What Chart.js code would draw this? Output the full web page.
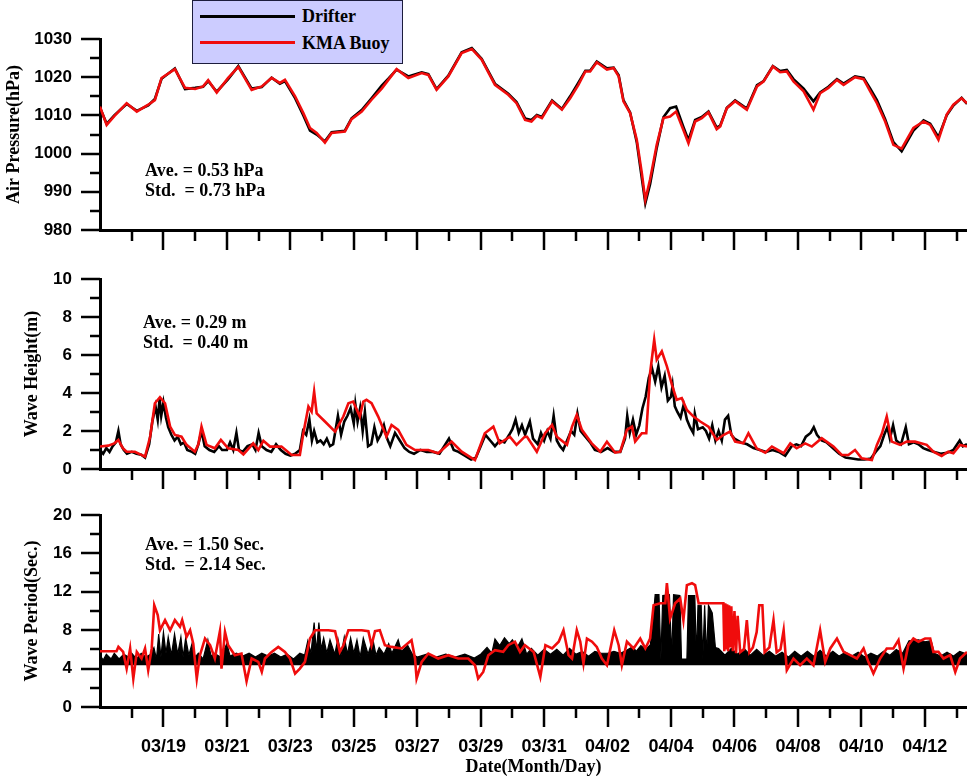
<!DOCTYPE html>
<html>
<head>
<meta charset="utf-8">
<title>Drifter vs KMA Buoy</title>
<script src="https://cdn.jsdelivr.net/npm/chart.js@4.4.1/dist/chart.umd.min.js"></script>
<style>
  html, body { margin: 0; padding: 0; background: #fff; }
  #wrap { position: relative; width: 967px; height: 778px; overflow: hidden; }
  #wrap canvas { position: absolute; left: 0; }
  .stats { position: absolute; font: bold 18px "Liberation Serif", "Times New Roman", serif; line-height: 20px; white-space: pre; color: #000; }
  #legend { position: absolute; left: 192px; top: 0; width: 209px; height: 62px; background: #ccccff; border: 1px solid #1c1c3c; z-index: 5; }
  #legend .line { position: absolute; left: 7px; width: 95px; height: 3px; }
  #legend .name { position: absolute; left: 109px; font: bold 18px "Liberation Serif", "Times New Roman", serif; line-height: 20px; color: #000; }
</style>
</head>
<body>
<div id="wrap">
  <canvas id="pressureChart" width="967" height="256" style="top:0"></canvas>
  <canvas id="heightChart" width="967" height="236" style="top:256px"></canvas>
  <canvas id="periodChart" width="967" height="286" style="top:492px"></canvas>
  <div id="legend"></div>
  <div class="stats" id="pressureStats" style="left:145px; top:160px"></div>
  <div class="stats" id="heightStats" style="left:143px; top:312px"></div>
  <div class="stats" id="periodStats" style="left:145px; top:534px"></div>
</div>
<script>
// days since 03/17 00:00
const dateLabels = ['03/17','03/18','03/19','03/20','03/21','03/22','03/23','03/24','03/25','03/26',
  '03/27','03/28','03/29','03/30','03/31','04/01','04/02','04/03','04/04','04/05',
  '04/06','04/07','04/08','04/09','04/10','04/11','04/12','04/13'];
const seriesNames = ['Drifter', 'KMA Buoy'];
const seriesColors = ['#000000', 'rgb(240,12,12)'];

const pressureStats = ['Ave. = 0.53 hPa', 'Std.  = 0.73 hPa'];
const heightStats = ['Ave. = 0.29 m', 'Std.  = 0.40 m'];
const periodStats = ['Ave. = 1.50 Sec.', 'Std.  = 2.14 Sec.'];

// air pressure (hPa)
const pressureDays = [0, 0.21, 0.45, 0.84, 1.16, 1.52, 1.73, 1.94, 2.36, 2.68,
  3, 3.25, 3.41, 3.68, 4.04, 4.36, 4.78, 5.1, 5.41, 5.67,
  5.83, 6.15, 6.41, 6.62, 6.83, 7.09, 7.3, 7.72, 7.93, 8.25,
  8.56, 8.88, 9.09, 9.35, 9.72, 10.14, 10.35, 10.61, 10.98, 11.4,
  11.72, 12.03, 12.45, 12.87, 13.13, 13.4, 13.6, 13.77, 13.93, 14.25,
  14.56, 14.82, 15.08, 15.3, 15.45, 15.66, 15.98, 16.19, 16.35, 16.5,
  16.71, 16.92, 17.08, 17.19, 17.34, 17.55, 17.76, 17.97, 18.16, 18.39,
  18.55, 18.76, 18.97, 19.18, 19.44, 19.55, 19.76, 20.02, 20.39, 20.71,
  20.92, 21.21, 21.44, 21.65, 21.86, 22.18, 22.49, 22.7, 22.96, 23.23,
  23.44, 23.8, 24.07, 24.28, 24.49, 24.75, 25.01, 25.27, 25.64, 25.96,
  26.17, 26.43, 26.69, 26.9, 27.16, 27.33];
const pressureDrifter = [1012.0, 1007.8, 1010.0, 1013.0, 1011.2, 1012.6, 1014.3, 1019.6, 1022.3, 1016.9,
  1017.2, 1017.5, 1019.0, 1016.2, 1019.5, 1022.9, 1017.0, 1017.4, 1019.9, 1018.3,
  1019.0, 1014.5, 1010.0, 1006.0, 1005.0, 1003.2, 1005.6, 1006.0, 1009.2, 1011.4,
  1014.5, 1017.8, 1019.6, 1022.0, 1020.2, 1021.3, 1020.8, 1016.9, 1020.4, 1026.5,
  1027.6, 1024.8, 1018.3, 1015.7, 1013.5, 1009.2, 1008.8, 1010.1, 1009.6, 1013.9,
  1011.7, 1015.0, 1018.6, 1021.7, 1021.7, 1024.1, 1022.3, 1022.5, 1020.5, 1014.0,
  1010.8, 1003.0, 993.5, 987.0, 992.0, 1001.5, 1009.5, 1011.9, 1012.3, 1007.0,
  1003.5, 1008.8, 1009.6, 1011.0, 1006.8, 1007.3, 1012.0, 1013.9, 1011.8, 1017.9,
  1019.0, 1022.9, 1021.6, 1021.9, 1019.5, 1017.0, 1013.7, 1016.0, 1017.5, 1019.5,
  1018.3, 1020.2, 1019.8, 1017.0, 1014.0, 1009.0, 1003.0, 1000.6, 1006.0, 1008.7,
  1007.8, 1004.3, 1010.0, 1012.6, 1014.6, 1013.0];
const pressureBuoy = [1012.3, 1007.5, 1009.8, 1013.2, 1011.0, 1012.8, 1014.0, 1019.8, 1022.1, 1017.2,
  1016.9, 1017.6, 1019.2, 1016.0, 1019.8, 1022.7, 1016.7, 1017.6, 1019.8, 1018.5,
  1019.3, 1015.0, 1010.6, 1006.7, 1005.4, 1002.9, 1005.4, 1005.8, 1009.0, 1011.0,
  1014.1, 1017.0, 1019.3, 1022.1, 1019.8, 1021.1, 1020.6, 1016.7, 1020.2, 1026.3,
  1027.4, 1024.6, 1018.0, 1015.4, 1013.2, 1008.8, 1008.4, 1009.9, 1009.3, 1013.7,
  1011.5, 1014.5, 1018.0, 1021.5, 1021.5, 1023.9, 1022.0, 1022.4, 1020.2, 1013.7,
  1010.6, 1003.6, 994.9, 987.9, 993.2, 1002.3, 1009.3, 1009.7, 1011.0, 1006.2,
  1002.7, 1008.4, 1009.3, 1010.8, 1006.4, 1007.1, 1011.9, 1013.7, 1011.5, 1017.6,
  1018.9, 1022.8, 1021.3, 1021.5, 1018.9, 1016.3, 1011.5, 1015.8, 1017.2, 1019.3,
  1018.0, 1020.0, 1019.5, 1016.3, 1013.2, 1008.4, 1002.3, 1001.3, 1006.7, 1008.4,
  1007.5, 1003.6, 1010.2, 1012.8, 1014.5, 1013.2];

// wave height (m)
const heightDaysDrifter = [0, 0.1, 0.2, 0.3, 0.4, 0.5, 0.58, 0.65, 0.75, 0.85,
  1, 1.15, 1.3, 1.42, 1.55, 1.65, 1.75, 1.82, 1.88, 1.93,
  2, 2.08, 2.15, 2.25, 2.35, 2.45, 2.55, 2.65, 2.75, 2.9,
  3, 3.1, 3.2, 3.3, 3.45, 3.6, 3.75, 3.85, 4, 4.1,
  4.2, 4.3, 4.38, 4.5, 4.65, 4.8, 4.9, 5, 5.1, 5.25,
  5.4, 5.55, 5.7, 5.85, 6, 6.15, 6.3, 6.4, 6.5, 6.6,
  6.68, 6.75, 6.85, 6.95, 7.05, 7.15, 7.25, 7.35, 7.5, 7.6,
  7.7, 7.8, 7.9, 8, 8.05, 8.12, 8.2, 8.28, 8.35, 8.45,
  8.55, 8.65, 8.75, 8.85, 8.95, 9.05, 9.15, 9.3, 9.45, 9.6,
  9.75, 9.9, 10.1, 10.3, 10.5, 10.7, 10.85, 11, 11.15, 11.3,
  11.5, 11.7, 11.85, 12, 12.15, 12.3, 12.45, 12.6, 12.75, 12.9,
  13, 13.1, 13.2, 13.3, 13.4, 13.55, 13.65, 13.8, 13.9, 14,
  14.1, 14.2, 14.3, 14.4, 14.5, 14.6, 14.75, 14.85, 14.95, 15.05,
  15.15, 15.3, 15.45, 15.6, 15.8, 16, 16.2, 16.4, 16.55, 16.62,
  16.7, 16.8, 16.9, 17, 17.1, 17.2, 17.3, 17.4, 17.5, 17.6,
  17.7, 17.8, 17.9, 18, 18.05, 18.12, 18.2, 18.3, 18.4, 18.5,
  18.6, 18.7, 18.75, 18.85, 19, 19.1, 19.2, 19.3, 19.4, 19.5,
  19.6, 19.7, 19.8, 19.9, 20, 20.2, 20.4, 20.6, 20.8, 21,
  21.2, 21.4, 21.6, 21.8, 21.95, 22.1, 22.25, 22.4, 22.5, 22.6,
  22.75, 22.9, 23.1, 23.3, 23.5, 23.7, 23.9, 24.1, 24.3, 24.45,
  24.6, 24.72, 24.82, 24.9, 25, 25.1, 25.25, 25.4, 25.5, 25.65,
  25.8, 25.95, 26.1, 26.3, 26.5, 26.7, 26.9, 27.1, 27.2, 27.33];
const heightDrifter = [1.0, 0.8, 1.1, 0.9, 1.2, 1.4, 2.0, 1.3, 1.0, 0.8,
  0.9, 0.8, 0.75, 0.6, 1.3, 2.5, 3.3, 2.6, 3.7, 2.8,
  3.5, 2.7, 2.2, 1.8, 1.5, 1.7, 1.3, 1.4, 1.0, 0.9,
  0.8, 1.3, 2.0, 1.2, 1.0, 0.9, 1.2, 1.0, 1.0, 1.4,
  1.0, 1.9, 1.0, 0.9, 1.2, 1.3, 1.0, 1.9, 1.2, 1.0,
  0.9, 1.3, 1.0, 0.8, 0.7, 0.8, 1.0, 2.0, 1.8, 2.6,
  1.5, 2.0, 1.4, 1.5, 1.3, 1.6, 1.2, 1.3, 2.8, 1.8,
  2.5, 2.8, 3.2, 2.4, 3.4, 2.5, 3.2, 2.0, 3.0, 1.2,
  1.3, 2.2, 1.5, 1.8, 2.3, 1.6, 1.2, 1.9, 1.5, 1.1,
  0.9, 0.8, 1.0, 0.9, 0.9, 0.8, 1.2, 1.6, 1.0, 0.9,
  0.7, 0.5, 0.6, 1.2, 1.8, 1.5, 1.2, 1.5, 1.4, 1.8,
  2.1, 2.6, 1.9, 2.3, 1.8, 2.5, 1.6, 1.3, 1.9, 1.5,
  2.0, 1.6, 2.8, 1.5, 1.2, 1.0, 1.6, 2.0, 1.8, 2.9,
  2.0, 1.7, 1.4, 1.0, 0.9, 1.1, 0.9, 0.9, 1.6, 2.8,
  1.9, 2.6, 1.8, 2.3, 3.2, 3.8, 4.8, 5.3, 4.6, 5.4,
  4.3, 4.9, 3.6, 3.8, 4.4, 3.3, 3.0, 2.7, 3.4, 2.6,
  2.2, 1.9, 2.9, 2.1, 2.2, 2.0, 1.6, 2.3, 1.5, 2.0,
  1.5, 2.6, 2.8, 1.8, 1.6, 1.4, 1.3, 1.1, 1.0, 0.9,
  1.0, 0.9, 0.7, 1.2, 1.3, 1.2, 1.7, 1.9, 2.2, 1.8,
  1.5, 1.4, 1.1, 0.8, 0.6, 0.55, 0.5, 0.5, 0.55, 0.9,
  1.2, 1.8, 2.2, 1.6, 2.3, 1.5, 1.3, 2.2, 1.3, 1.4,
  1.3, 1.1, 1.0, 0.9, 0.8, 0.85, 1.0, 1.5, 1.2, 1.3];
const heightDaysBuoy = [0, 0.26, 0.45, 0.58, 0.72, 0.84, 1.1, 1.42, 1.58, 1.73,
  1.89, 2.05, 2.21, 2.36, 2.57, 2.73, 2.99, 3.1, 3.2, 3.36,
  3.62, 3.81, 4.04, 4.36, 4.52, 4.83, 4.99, 5.15, 5.36, 5.72,
  6.04, 6.3, 6.41, 6.57, 6.67, 6.75, 6.83, 7.09, 7.41, 7.67,
  7.83, 7.98, 8.1, 8.19, 8.3, 8.4, 8.56, 8.77, 9.03, 9.19,
  9.4, 9.66, 9.93, 10.35, 10.66, 11.08, 11.4, 11.82, 12.13, 12.4,
  12.6, 12.92, 13.13, 13.39, 13.46, 13.77, 14.03, 14.25, 14.4, 14.72,
  14.88, 15.03, 15.19, 15.5, 15.77, 15.98, 16.24, 16.4, 16.61, 16.77,
  16.87, 17.08, 17.22, 17.34, 17.47, 17.55, 17.71, 17.87, 18.03, 18.18,
  18.34, 18.5, 18.71, 18.92, 19.18, 19.44, 19.65, 19.86, 20.02, 20.28,
  20.44, 20.7, 20.97, 21.18, 21.55, 21.76, 21.96, 22.23, 22.44, 22.75,
  23.12, 23.38, 23.59, 23.8, 24.01, 24.33, 24.49, 24.65, 24.8, 24.96,
  25.22, 25.43, 25.69, 26.06, 26.27, 26.53, 26.74, 26.9, 27.11, 27.33];
const heightBuoy = [1.18, 1.23, 1.35, 1.53, 1.1, 0.91, 0.91, 0.65, 1.7, 3.46,
  3.78, 3.46, 2.23, 1.79, 1.7, 1.27, 0.91, 1.3, 2.23, 1.27,
  1.09, 1.53, 1.09, 1.0, 0.77, 1.35, 1.0, 1.49, 1.18, 1.18,
  0.74, 0.74, 1.88, 3.29, 3.02, 4.08, 2.93, 2.5, 1.97, 2.76,
  3.46, 3.55, 3.1, 2.76, 3.55, 3.64, 3.46, 2.76, 1.7, 2.32,
  2.06, 1.27, 1.0, 1.0, 0.83, 1.44, 0.91, 0.47, 1.88, 2.23,
  1.35, 1.7, 1.27, 1.7, 1.7, 0.91, 1.88, 2.32, 1.7, 1.27,
  2.23, 2.85, 2.06, 1.35, 0.91, 1.44, 0.86, 0.91, 2.06, 2.23,
  1.44, 1.88, 1.88, 5.04, 6.8, 5.75, 6.19, 5.4, 4.43, 3.64,
  3.73, 3.11, 2.76, 2.5, 2.23, 1.53, 1.79, 1.97, 1.44, 1.35,
  1.88, 1.09, 0.86, 1.18, 0.83, 1.35, 1.09, 1.35, 1.18, 1.62,
  1.18, 0.74, 0.74, 1.0, 0.56, 0.47, 1.27, 1.88, 2.76, 1.44,
  1.27, 1.44, 1.44, 1.27, 0.91, 0.69, 0.91, 0.83, 1.27, 1.18];

// wave period (sec); drifter trace is a dense band sitting on its lowest bin
const periodFloor = 4.35;
const periodDaysDrifter = [0, 0.1, 0.2, 0.35, 0.45, 0.6, 0.75, 0.9, 1, 1.15,
  1.3, 1.45, 1.6, 1.7, 1.78, 1.85, 1.92, 2, 2.08, 2.15,
  2.25, 2.35, 2.45, 2.55, 2.62, 2.7, 2.8, 2.9, 3, 3.1,
  3.25, 3.4, 3.5, 3.6, 3.8, 4, 4.1, 4.3, 4.5, 4.7,
  4.9, 5.1, 5.3, 5.5, 5.7, 5.9, 6.1, 6.3, 6.45, 6.55,
  6.65, 6.75, 6.82, 6.9, 6.97, 7.05, 7.15, 7.25, 7.4, 7.5,
  7.6, 7.7, 7.8, 7.9, 8, 8.1, 8.2, 8.3, 8.45, 8.6,
  8.7, 8.8, 8.95, 9.1, 9.2, 9.4, 9.5, 9.7, 9.85, 10,
  10.3, 10.6, 10.9, 11.2, 11.5, 11.8, 12, 12.2, 12.35, 12.45,
  12.6, 12.75, 12.9, 13, 13.15, 13.3, 13.45, 13.6, 13.8, 14,
  14.2, 14.4, 14.6, 14.8, 15, 15.2, 15.4, 15.6, 15.8, 16,
  16.2, 16.4, 16.6, 16.8, 16.9, 17.05, 17.2, 17.35, 17.42, 17.5,
  17.62, 17.68, 17.74, 17.95, 18.02, 18.08, 18.28, 18.33, 18.5, 18.55,
  18.75, 18.8, 18.85, 18.95, 19, 19.06, 19.12, 19.18, 19.3, 19.4,
  19.5, 19.7, 19.9, 20.1, 20.3, 20.5, 20.7, 20.9, 21.1, 21.3,
  21.5, 21.7, 21.9, 22.1, 22.3, 22.5, 22.7, 22.9, 23.1, 23.3,
  23.5, 23.7, 23.9, 24.1, 24.3, 24.5, 24.7, 24.9, 25.1, 25.3,
  25.5, 25.8, 26, 26.2, 26.3, 26.5, 26.7, 26.9, 27.1, 27.33];
const periodDrifter = [5.4, 4.9, 5.5, 5.0, 5.6, 5.0, 5.5, 5.2, 5.6, 5.0,
  5.6, 5.2, 5.5, 6.2, 5.0, 7.6, 5.2, 7.8, 5.6, 7.3,
  5.4, 7.6, 5.5, 7.3, 5.2, 7.2, 5.4, 6.6, 5.2, 5.6,
  5.0, 7.0, 5.3, 5.6, 5.2, 6.6, 5.3, 5.6, 5.3, 5.6,
  5.2, 5.6, 5.3, 5.6, 5.2, 5.5, 5.0, 5.6, 5.4, 6.9,
  5.6, 8.8, 5.8, 8.8, 6.0, 7.2, 5.6, 7.0, 5.5, 7.1,
  5.4, 7.3, 5.5, 7.2, 5.6, 7.0, 5.2, 7.2, 5.5, 7.1,
  5.4, 6.2, 5.5, 6.6, 5.6, 7.0, 5.8, 6.4, 5.5, 5.2,
  5.5, 5.2, 5.5, 5.2, 5.5, 5.1, 5.5, 6.2, 5.6, 7.1,
  6.4, 7.2, 6.6, 7.0, 6.2, 7.1, 5.5, 6.1, 5.4, 6.0,
  5.5, 6.0, 5.4, 6.1, 5.5, 5.8, 5.3, 5.8, 5.6, 5.6,
  5.8, 5.6, 5.9, 6.3, 5.8, 6.4, 6.0, 6.5, 8.6, 11.7,
  11.7, 5.0, 11.6, 11.7, 5.2, 11.7, 11.6, 5.0, 5.0, 11.6,
  11.6, 5.2, 10.6, 10.6, 5.0, 10.6, 5.2, 10.6, 9.8, 6.2,
  6.1, 5.4, 6.1, 5.5, 6.1, 5.4, 6.0, 5.4, 5.8, 5.3,
  5.7, 5.2, 5.8, 5.3, 5.8, 5.3, 5.9, 5.3, 5.8, 5.3,
  5.7, 5.3, 5.7, 5.2, 5.6, 5.3, 5.8, 5.4, 6.0, 5.6,
  6.9, 7.0, 6.8, 6.9, 5.6, 5.3, 5.7, 5.3, 5.8, 5.5];
const periodDaysBuoy = [0, 0.52, 0.58, 0.73, 0.84, 0.95, 1.05, 1.16, 1.31, 1.42,
  1.52, 1.63, 1.71, 1.82, 1.89, 2.05, 2.21, 2.36, 2.52, 2.59,
  2.73, 2.84, 2.94, 3.05, 3.15, 3.31, 3.47, 3.62, 3.78, 3.83,
  3.94, 4.04, 4.25, 4.46, 4.62, 4.78, 4.99, 5.1, 5.2, 5.41,
  5.62, 5.83, 5.99, 6.15, 6.3, 6.46, 6.62, 6.78, 7.2, 7.41,
  7.56, 7.67, 7.83, 8.25, 8.46, 8.56, 8.67, 8.82, 8.98, 9.19,
  9.51, 9.82, 9.93, 9.98, 10.14, 10.35, 10.66, 10.98, 11.29, 11.61,
  11.82, 11.92, 12.08, 12.24, 12.45, 12.71, 12.87, 13.08, 13.24, 13.39,
  13.6, 13.67, 13.88, 14.04, 14.25, 14.46, 14.61, 14.77, 14.88, 15.03,
  15.14, 15.24, 15.35, 15.51, 15.66, 15.82, 15.98, 16.21, 16.35, 16.45,
  16.61, 16.82, 17.03, 17.19, 17.34, 17.45, 17.66, 17.82, 17.87, 17.97,
  18.13, 18.29, 18.39, 18.5, 18.66, 18.76, 18.87, 19.65, 19.68, 19.71,
  19.74, 19.77, 19.8, 19.83, 19.87, 19.9, 19.95, 20, 20.05, 20.1,
  20.18, 20.3, 20.39, 20.47, 20.58, 20.7, 20.78, 20.88, 20.95, 21.1,
  21.23, 21.33, 21.45, 21.55, 21.65, 21.86, 22.07, 22.28, 22.49, 22.7,
  22.86, 23.02, 23.23, 23.44, 23.65, 23.86, 24.07, 24.22, 24.38, 24.59,
  24.8, 25.01, 25.17, 25.33, 25.48, 25.64, 25.8, 26.01, 26.17, 26.27,
  26.43, 26.59, 26.8, 26.96, 27.11, 27.33];
const periodBuoy = [5.81, 5.81, 6.26, 5.74, 4.0, 6.1, 2.96, 5.74, 5.05, 6.1,
  3.83, 6.1, 10.6, 9.57, 8.0, 9.05, 8.0, 9.05, 8.35, 9.05,
  7.3, 8.0, 6.6, 2.96, 5.4, 7.13, 6.44, 5.05, 7.9, 4.0,
  7.83, 6.44, 5.4, 5.57, 2.68, 5.05, 4.7, 3.65, 5.05, 5.74,
  6.26, 5.74, 5.05, 3.48, 4.0, 4.7, 7.13, 8.0, 8.0, 7.9,
  5.74, 6.4, 8.0, 8.0, 7.9, 6.44, 7.9, 8.0, 6.44, 6.26,
  6.1, 6.96, 5.05, 2.96, 4.7, 5.57, 5.05, 5.4, 5.05, 5.05,
  4.35, 2.96, 3.65, 5.4, 5.92, 5.74, 6.44, 6.8, 5.74, 6.44,
  5.92, 5.74, 3.13, 6.44, 6.1, 6.8, 8.0, 5.4, 5.05, 8.0,
  6.8, 4.52, 7.13, 6.8, 6.26, 5.05, 4.35, 8.0, 6.44, 4.35,
  6.8, 6.1, 7.13, 6.1, 7.13, 10.6, 10.8, 10.8, 12.9, 9.2,
  10.8, 11.3, 9.05, 12.7, 12.9, 12.7, 10.8, 10.8, 5.8, 10.8,
  6.0, 10.7, 5.8, 10.6, 6.2, 10.5, 5.8, 10.0, 5.6, 9.5,
  5.7, 6.0, 9.05, 5.7, 6.2, 7.8, 10.6, 10.6, 5.7, 6.2,
  9.05, 5.7, 6.0, 8.0, 3.83, 5.05, 4.35, 5.05, 4.35, 8.0,
  4.7, 6.1, 7.13, 5.74, 5.4, 5.05, 6.1, 4.7, 3.48, 5.05,
  6.1, 6.1, 6.96, 4.0, 6.44, 7.13, 6.8, 7.13, 7.13, 5.74,
  5.74, 5.05, 5.4, 3.65, 5.05, 5.74];

const xMax = 27.33;
const sansFont = "'Liberation Sans', Arial, sans-serif";
const serifFont = "'Liberation Serif', 'Times New Roman', serif";
const clear = 'rgba(0,0,0,0)';

function toPoints(xs, ys) {
  return xs.map((d, i) => ({ x: d, y: ys[i] }));
}

// tick marks: long on labelled values, short in between
const tickMarks = {
  id: 'tickMarks',
  afterDraw(chart, args, opts) {
    const { ctx, chartArea } = chart;
    const x = chart.scales.x;
    const y = chart.scales.y;
    ctx.save();
    ctx.strokeStyle = '#000';
    ctx.lineWidth = 2.5;
    ctx.beginPath();
    for (let d = 1; d <= Math.floor(x.max); d++) {
      const px = Math.round(x.getPixelForValue(d));
      ctx.moveTo(px, chartArea.bottom);
      ctx.lineTo(px, chartArea.bottom + (d % 2 === 0 ? 20 : 11));
    }
    for (let v = opts.min; v <= opts.max; v += opts.minor) {
      const py = Math.round(y.getPixelForValue(v));
      const len = (v - opts.min) % opts.major === 0 ? 19 : 10;
      ctx.moveTo(chartArea.left, py);
      ctx.lineTo(chartArea.left - len, py);
    }
    ctx.stroke();
    ctx.restore();
  }
};

function makePanel(id, cfg) {
  return new Chart(document.getElementById(id), {
    type: 'line',
    data: {
      datasets: [
        {
          label: seriesNames[1],
          data: toPoints(cfg.buoyDays, cfg.buoy),
          borderColor: seriesColors[1],
          borderWidth: 2.6,
          order: 0
        },
        {
          label: seriesNames[0],
          data: toPoints(cfg.drifterDays, cfg.drifter),
          borderColor: seriesColors[0],
          backgroundColor: seriesColors[0],
          borderWidth: cfg.drifterFill ? 1.2 : 2.6,
          fill: cfg.drifterFill ? { value: periodFloor } : false,
          order: 1
        }
      ]
    },
    options: {
      responsive: false,
      animation: false,
      events: [],
      layout: { padding: { top: cfg.padTop, left: 0, right: 0, bottom: 0 } },
      elements: { point: { radius: 0 }, line: { tension: 0 } },
      plugins: {
        legend: { display: false },
        tooltip: { enabled: false },
        tickMarks: { min: cfg.min, max: cfg.max, minor: cfg.minor, major: cfg.major }
      },
      scales: {
        x: {
          type: 'linear',
          min: 0,
          max: xMax,
          ticks: {
            display: !!cfg.showDates,
            stepSize: 1,
            autoSkip: false,
            maxRotation: 0,
            padding: 0,
            color: '#000',
            font: { family: sansFont, size: 18, weight: 'bold' },
            callback: (v) => (Number.isInteger(v) && v > 0 && v % 2 === 0) ? dateLabels[v] : ''
          },
          // invisible tick lines only push the labels down
          grid: { drawOnChartArea: false, drawTicks: true, tickLength: cfg.showDates ? 29 : 0, tickColor: clear },
          border: { color: '#000', width: 3 },
          title: {
            display: !!cfg.showDates,
            text: 'Date(Month/Day)',
            color: '#000',
            padding: { top: 0, bottom: 0 },
            font: { family: serifFont, size: 18, weight: 'bold' }
          },
          afterFit: (s) => { s.height = cfg.xHeight; }
        },
        y: {
          min: cfg.min,
          max: cfg.max,
          ticks: {
            stepSize: cfg.minor,
            autoSkip: false,
            padding: 0,
            color: '#000',
            font: { family: sansFont, size: 17, weight: 'bold' },
            callback: (v) => ((v - cfg.min) % cfg.major === 0 ? v : '')
          },
          grid: { drawOnChartArea: false, drawTicks: true, tickLength: 28, tickColor: clear },
          border: { color: '#000', width: 3 },
          title: {
            display: true,
            text: cfg.title,
            color: '#000',
            padding: { top: cfg.titlePad, bottom: 0 },
            font: { family: serifFont, size: 18, weight: 'bold' }
          },
          afterFit: (s) => { s.width = 100; }
        }
      }
    },
    plugins: [tickMarks]
  });
}

makePanel('pressureChart', {
  title: 'Air Pressure(hPa)', titlePad: 4,
  min: 980, max: 1030, minor: 5, major: 10,
  padTop: 39, xHeight: 26,
  drifterDays: pressureDays, drifter: pressureDrifter,
  buoyDays: pressureDays, buoy: pressureBuoy
});

makePanel('heightChart', {
  title: 'Wave Height(m)', titlePad: 22,
  min: 0, max: 10, minor: 1, major: 2,
  padTop: 23, xHeight: 23,
  drifterDays: heightDaysDrifter, drifter: heightDrifter,
  buoyDays: heightDaysBuoy, buoy: heightBuoy
});

makePanel('periodChart', {
  title: 'Wave Period(Sec.)', titlePad: 22,
  min: 0, max: 20, minor: 2, major: 4,
  padTop: 23, xHeight: 71, showDates: true, drifterFill: true,
  drifterDays: periodDaysDrifter, drifter: periodDrifter,
  buoyDays: periodDaysBuoy, buoy: periodBuoy
});

// legend box
const legend = document.getElementById('legend');
seriesNames.forEach((name, i) => {
  const line = document.createElement('div');
  line.className = 'line';
  line.style.top = (i === 0 ? 13.5 : 39.5) + 'px';
  line.style.background = seriesColors[i];
  legend.appendChild(line);
  const label = document.createElement('div');
  label.className = 'name';
  label.style.top = (i === 0 ? 5 : 32) + 'px';
  label.textContent = name;
  legend.appendChild(label);
});

// stats text
[['pressureStats', pressureStats], ['heightStats', heightStats], ['periodStats', periodStats]]
  .forEach(([id, lines]) => {
    document.getElementById(id).textContent = lines.join('\n');
  });
</script>
</body>
</html>
